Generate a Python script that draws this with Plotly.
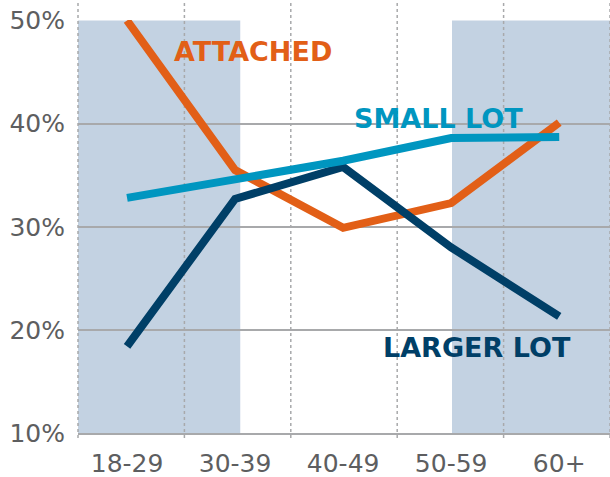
import plotly.graph_objects as go

categories = ["18-29", "30-39", "40-49", "50-59", "60+"]
attached = [50.0, 35.5, 29.9, 32.3, 40.1]
small_lot = [32.8, 34.6, 36.4, 38.6, 38.7]
larger_lot = [18.4, 32.7, 35.8, 28.0, 21.3]
y_ticks = [10, 20, 30, 40, 50]
y_tick_labels = ["10%", "20%", "30%", "40%", "50%"]

ORANGE = "#e25f17"
TEAL = "#0096c0"
NAVY = "#003f67"
BAND = "#c3d2e2"
GRID = "#a8a9ab"
TEXT = "#5d5e60"
FONT = "DejaVu Sans"

fig = go.Figure()
for name, vals, col in [("ATTACHED", attached, ORANGE),
                        ("LARGER LOT", larger_lot, NAVY),
                        ("SMALL LOT", small_lot, TEAL)]:
    fig.add_trace(go.Scatter(x=categories, y=vals, mode="lines", name=name,
                             line=dict(color=col, width=8), showlegend=False))

shapes = []
for x0, x1 in [(0, 0.305), (0.703, 1.0)]:
    shapes.append(dict(type="rect", xref="paper", yref="y", x0=x0, x1=x1, y0=10, y1=50,
                       fillcolor=BAND, line=dict(width=0), layer="below"))
for i in range(6):
    xp = i * 0.2
    shapes.append(dict(type="line", xref="paper", yref="paper", x0=xp, x1=xp, y0=-0.012, y1=1.05,
                       line=dict(color=GRID, width=1.5, dash="dot"), layer="below"))

annotations = [
    dict(x=1.17, y=47.0, text="<b>ATTACHED</b>", font=dict(color=ORANGE, size=27, family=FONT)),
    dict(x=2.88, y=40.5, text="<b>SMALL LOT</b>", font=dict(color=TEAL, size=27, family=FONT)),
    dict(x=3.24, y=18.3, text="<b>LARGER LOT</b>", font=dict(color=NAVY, size=27, family=FONT)),
]
for a in annotations:
    a.update(xref="x", yref="y", showarrow=False, xanchor="center", yanchor="middle")

fig.update_layout(
    width=610, height=477,
    margin=dict(l=78, r=0, t=20, b=44),
    paper_bgcolor="white", plot_bgcolor="rgba(0,0,0,0)",
    shapes=shapes, annotations=annotations,
    font=dict(family=FONT, color=TEXT, size=25),
)
fig.update_xaxes(type="category", categoryarray=categories, range=[-0.454, 4.47],
                 showgrid=False, zeroline=False, showline=True, linecolor=GRID, linewidth=2,
                 ticks="", ticklabelstandoff=7, tickfont=dict(size=25, color=TEXT, family=FONT))
fig.update_yaxes(range=[10, 50.05], tickvals=y_ticks, ticktext=y_tick_labels, showgrid=True,
                 gridcolor=GRID, gridwidth=2, zeroline=False, showline=False,
                 ticks="", ticklabelstandoff=12, tickfont=dict(size=25, color=TEXT, family=FONT))

fig.write_html("out.html")
